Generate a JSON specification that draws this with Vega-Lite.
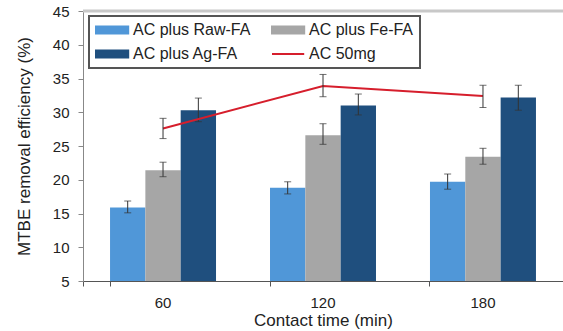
{
  "$schema": "https://vega.github.io/schema/vega-lite/v6.json",
  "width": 480,
  "height": 270,
  "autosize": {"type": "none"},
  "padding": {"left": 83, "top": 11, "right": 0, "bottom": 50},
  "background": "white",
  "config": {
    "view": {"stroke": null},
    "font": "Liberation Sans",
    "axis": {
      "labelFont": "Liberation Sans",
      "titleFont": "Liberation Sans",
      "labelColor": "#222222",
      "titleColor": "#222222",
      "titleFontWeight": "normal",
      "grid": false,
      "labelOverlap": false
    }
  },
  "datasets": {
    "bars": [
      {"time": "60", "series": "AC plus Raw-FA", "value": 15.9, "lo": 15.1, "hi": 16.85},
      {"time": "60", "series": "AC plus Fe-FA", "value": 21.4, "lo": 20.45, "hi": 22.6},
      {"time": "60", "series": "AC plus Ag-FA", "value": 30.3, "lo": 28.6, "hi": 32.1},
      {"time": "120", "series": "AC plus Raw-FA", "value": 18.8, "lo": 17.9, "hi": 19.7},
      {"time": "120", "series": "AC plus Fe-FA", "value": 26.6, "lo": 25.25, "hi": 28.3},
      {"time": "120", "series": "AC plus Ag-FA", "value": 31.0, "lo": 29.6, "hi": 32.7},
      {"time": "180", "series": "AC plus Raw-FA", "value": 19.7, "lo": 18.6, "hi": 20.85},
      {"time": "180", "series": "AC plus Fe-FA", "value": 23.4, "lo": 22.3, "hi": 24.66},
      {"time": "180", "series": "AC plus Ag-FA", "value": 32.2, "lo": 30.3, "hi": 34.0}
    ],
    "line": [
      {"time": "60", "series": "AC 50mg", "value": 27.6, "lo": 26.1, "hi": 29.1},
      {"time": "120", "series": "AC 50mg", "value": 33.9, "lo": 32.3, "hi": 35.6},
      {"time": "180", "series": "AC 50mg", "value": 32.4, "lo": 30.7, "hi": 34.0}
    ],
    "top": [{"v": 45}]
  },
  "layer": [
    {
      "data": {"name": "bars"},
      "mark": {"type": "bar"},
      "encoding": {
        "x": {
          "field": "time", "type": "ordinal", "sort": ["60", "120", "180"],
          "scale": {"paddingInner": 0.3375, "paddingOuter": 0.169},
          "axis": {
            "title": "Contact time (min)", "labelAngle": 0,
            "labelFontSize": 15, "titleFontSize": 17,
            "domainColor": "#555555", "tickColor": "#555555",
            "tickSize": 5, "labelPadding": 9, "titlePadding": 2,
            "bandPosition": 0, "tickExtra": true
          }
        },
        "xOffset": {
          "field": "series", "type": "nominal",
          "sort": ["AC plus Raw-FA", "AC plus Fe-FA", "AC plus Ag-FA"],
          "scale": {"paddingInner": 0, "paddingOuter": 0}
        },
        "y": {
          "field": "value", "type": "quantitative",
          "scale": {"domain": [5, 45], "zero": false, "nice": false},
          "axis": {
            "title": "MTBE removal efficiency (%)",
            "values": [5, 10, 15, 20, 25, 30, 35, 40, 45],
            "tickCount": 20,
            "labelOverlap": false,
            "labelFontSize": 15, "titleFontSize": 17,
            "domainColor": "#888888", "tickColor": "#888888",
            "tickSize": 5, "labelPadding": 9, "titlePadding": 19
          }
        },
        "y2": {"datum": 5},
        "color": {
          "field": "series", "type": "nominal",
          "scale": {
            "domain": ["AC plus Raw-FA", "AC plus Fe-FA", "AC plus Ag-FA", "AC 50mg"],
            "range": ["#5097d8", "#a6a6a6", "#1f4f7e", "#d61e2c"]
          },
          "legend": {
            "title": null,
            "orient": "none",
            "legendX": 6,
            "legendY": 5,
            "direction": "horizontal",
            "columns": 2,
            "symbolType": "M-1,-0.5H3.6V0.5H-1Z",
            "symbolSize": 196,
            "labelFontSize": 16,
            "labelFont": "Liberation Sans",
            "labelColor": "#222222",
            "labelOffset": 22,
            "columnPadding": 17,
            "rowPadding": 8,
            "padding": 6,
            "strokeColor": "#555555",
            "fillColor": "white",
            "labelLimit": 300,
            "encode": {
              "symbols": {
                "update": {
                  "shape": {"signal": "datum.value === 'AC 50mg' ? 'M-1,0H3.6' : 'M-1,-0.5H3.6V0.5H-1Z'"},
                  "fill": {"signal": "datum.value === 'AC 50mg' ? 'transparent' : scale('color', datum.value)"},
                  "stroke": {"signal": "datum.value === 'AC 50mg' ? scale('color', datum.value) : 'transparent'"},
                  "strokeWidth": {"value": 2},
                  "opacity": {"value": 1}
                }
              },
              "legend": {"update": {"strokeWidth": {"value": 2}}}
            }
          }
        }
      }
    },
    {
      "data": {"name": "bars"},
      "mark": {"type": "rule", "color": "#333333", "strokeWidth": 1},
      "encoding": {
        "x": {"field": "time", "type": "ordinal", "sort": ["60", "120", "180"]},
        "xOffset": {"field": "series", "type": "nominal", "sort": ["AC plus Raw-FA", "AC plus Fe-FA", "AC plus Ag-FA"]},
        "y": {"field": "lo", "type": "quantitative"},
        "y2": {"field": "hi"}
      }
    },
    {
      "data": {"name": "bars"},
      "mark": {"type": "tick", "orient": "horizontal", "color": "#333333", "size": 7, "thickness": 1},
      "encoding": {
        "x": {"field": "time", "type": "ordinal", "sort": ["60", "120", "180"]},
        "xOffset": {"field": "series", "type": "nominal", "sort": ["AC plus Raw-FA", "AC plus Fe-FA", "AC plus Ag-FA"]},
        "y": {"field": "hi", "type": "quantitative"}
      }
    },
    {
      "data": {"name": "bars"},
      "mark": {"type": "tick", "orient": "horizontal", "color": "#333333", "size": 7, "thickness": 1},
      "encoding": {
        "x": {"field": "time", "type": "ordinal", "sort": ["60", "120", "180"]},
        "xOffset": {"field": "series", "type": "nominal", "sort": ["AC plus Raw-FA", "AC plus Fe-FA", "AC plus Ag-FA"]},
        "y": {"field": "lo", "type": "quantitative"}
      }
    },
    {
      "data": {"name": "line"},
      "mark": {"type": "line", "strokeWidth": 2},
      "encoding": {
        "x": {"field": "time", "type": "ordinal", "sort": ["60", "120", "180"]},
        "y": {"field": "value", "type": "quantitative"},
        "color": {"field": "series", "type": "nominal"}
      }
    },
    {
      "data": {"name": "line"},
      "mark": {"type": "rule", "color": "#333333", "strokeWidth": 1},
      "encoding": {
        "x": {"field": "time", "type": "ordinal", "sort": ["60", "120", "180"]},
        "y": {"field": "lo", "type": "quantitative"},
        "y2": {"field": "hi"}
      }
    },
    {
      "data": {"name": "line"},
      "mark": {"type": "tick", "orient": "horizontal", "color": "#333333", "size": 7, "thickness": 1},
      "encoding": {
        "x": {"field": "time", "type": "ordinal", "sort": ["60", "120", "180"]},
        "y": {"field": "hi", "type": "quantitative"}
      }
    },
    {
      "data": {"name": "line"},
      "mark": {"type": "tick", "orient": "horizontal", "color": "#333333", "size": 7, "thickness": 1},
      "encoding": {
        "x": {"field": "time", "type": "ordinal", "sort": ["60", "120", "180"]},
        "y": {"field": "lo", "type": "quantitative"}
      }
    },
    {
      "data": {"name": "top"},
      "mark": {"type": "rule", "color": "#c8c8c8", "strokeWidth": 3},
      "encoding": {
        "y": {"field": "v", "type": "quantitative"}
      }
    }
  ]
}
